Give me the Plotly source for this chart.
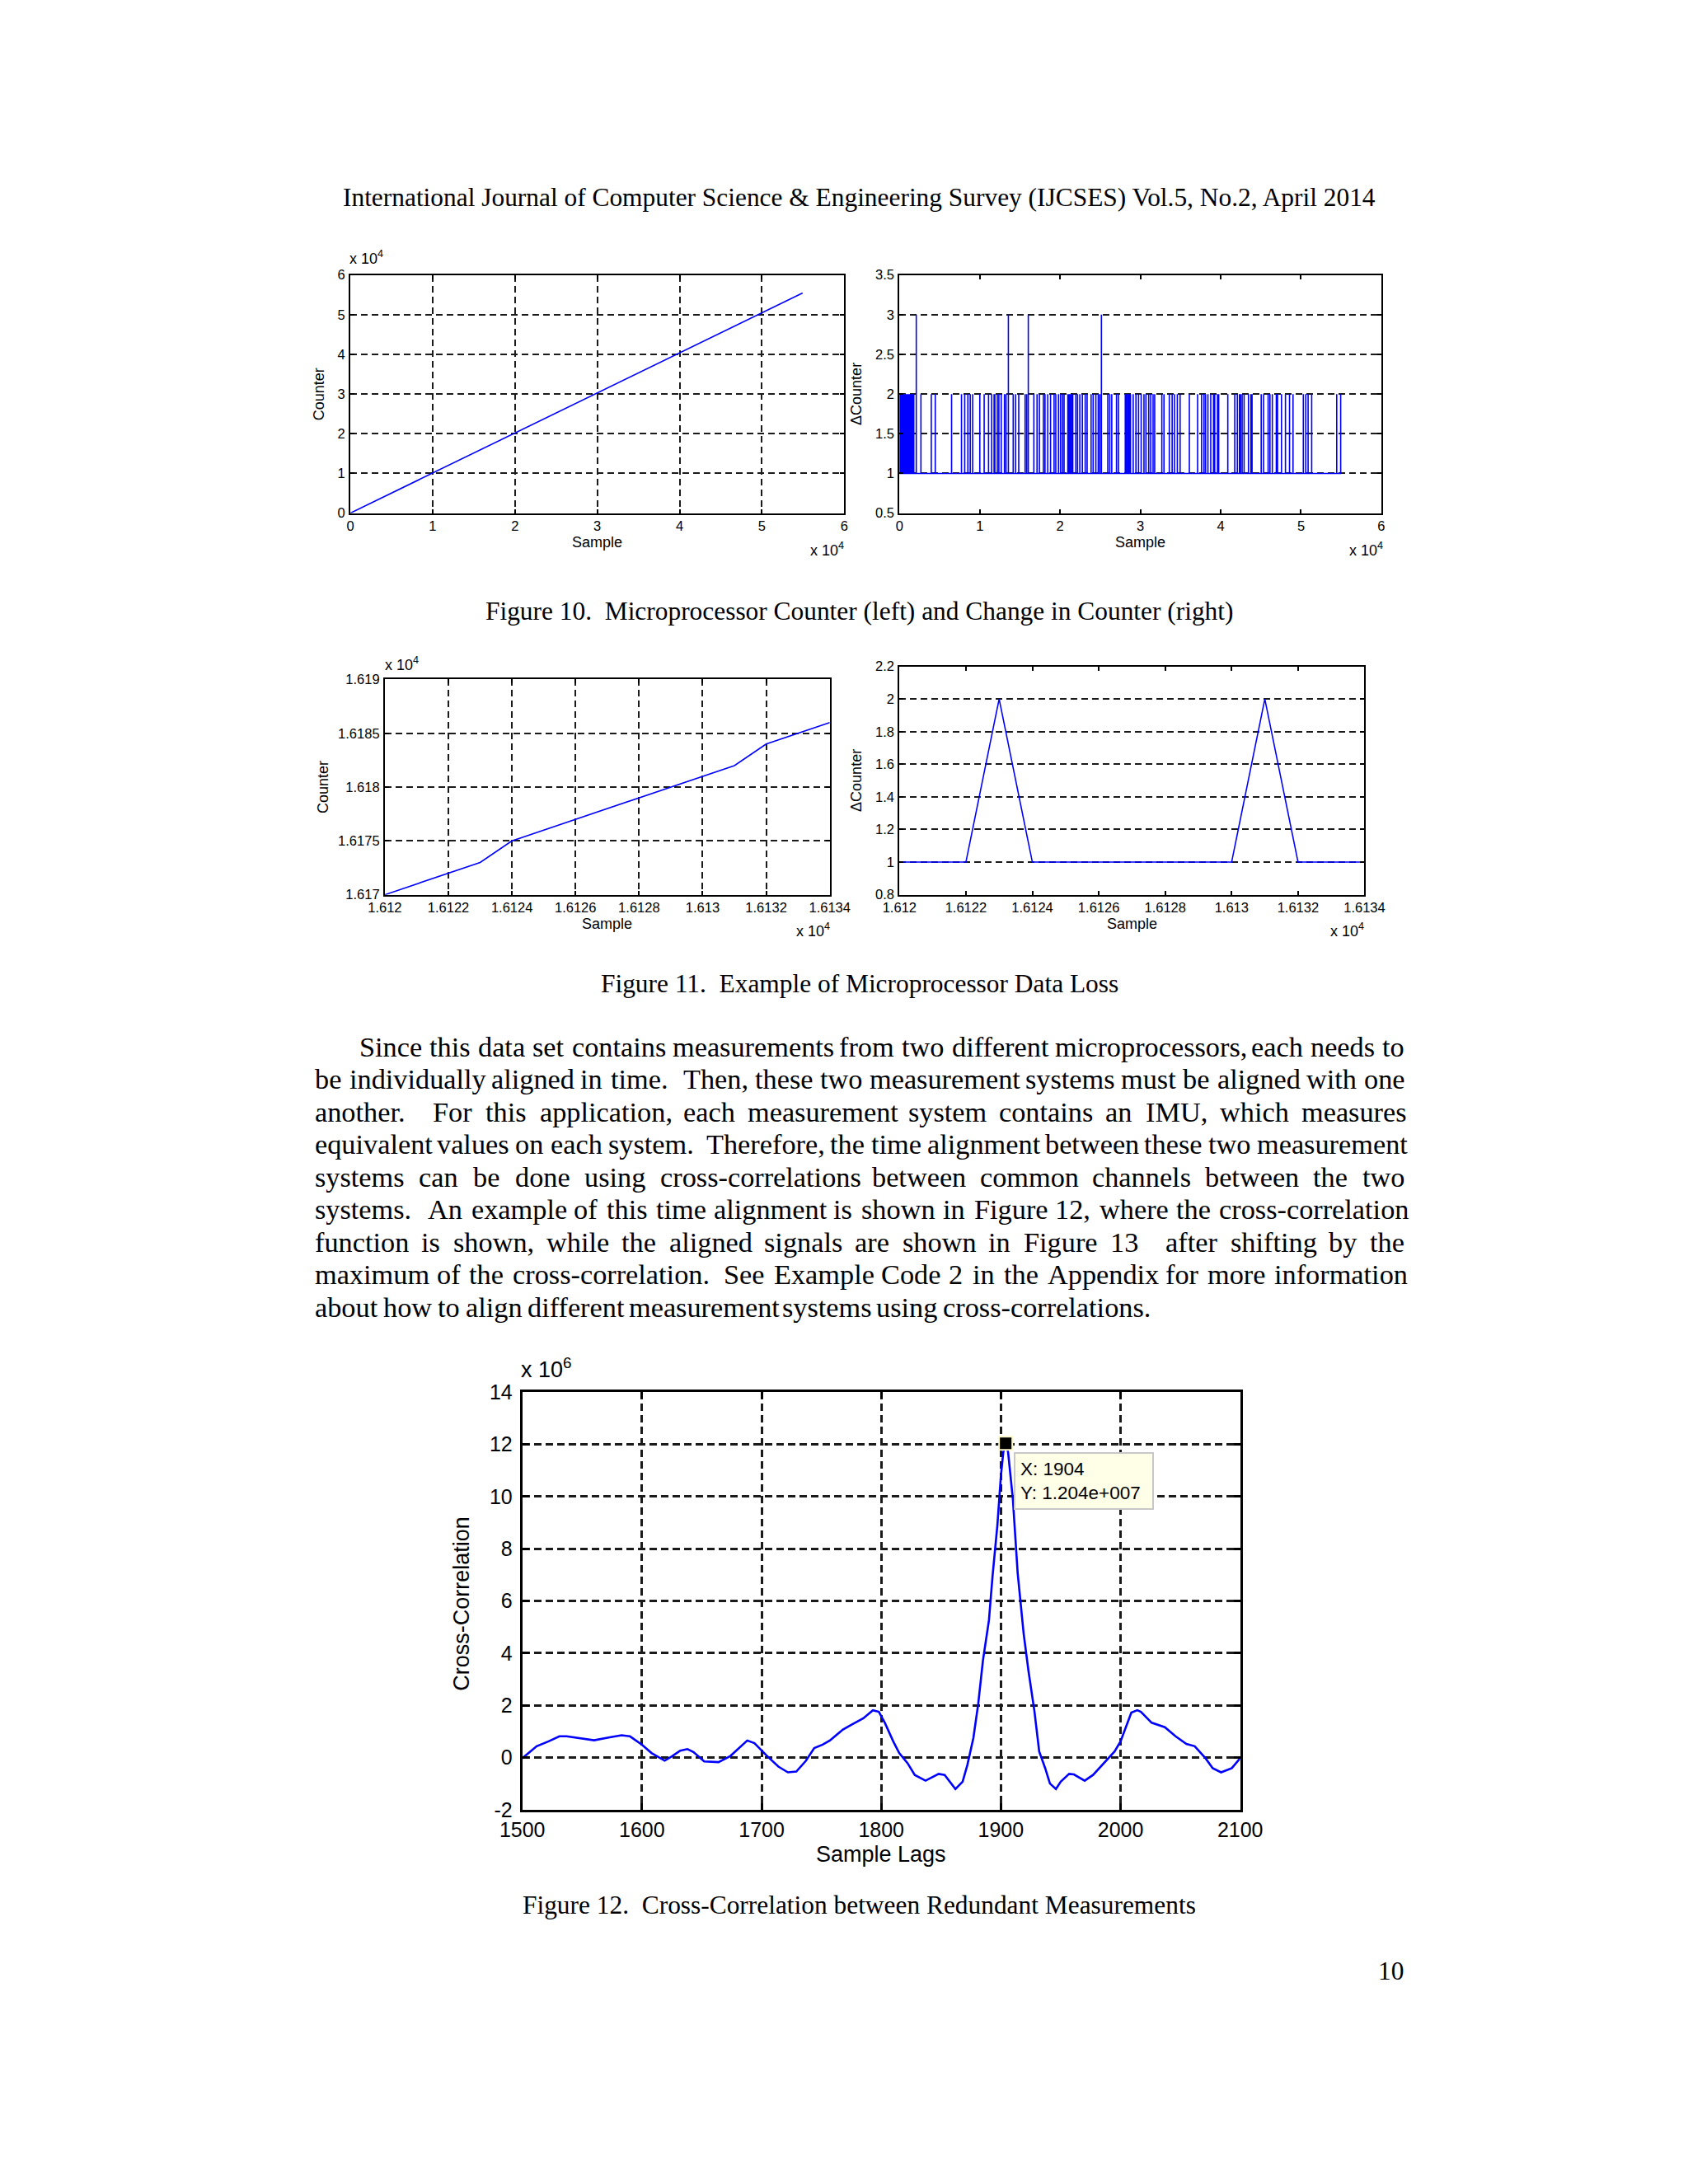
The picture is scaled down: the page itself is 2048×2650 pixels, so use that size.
import plotly.graph_objects as go

W, H = 2048, 2650

# ---------------- data ----------------
# Figure 10 (left): microprocessor counter vs sample
f10_sample = [0, 10000, 20000, 30000, 40000, 50000, 54950]
f10_counter = [0, 10080, 20150, 30230, 40300, 50350, 55450]
f10_ticks = [0, 10000, 20000, 30000, 40000, 50000, 60000]
f10_ticklabels = ['0', '1', '2', '3', '4', '5', '6']

# Figure 10 (right): change in counter (baseline 1, jumps of 2 and 3)
f10_delta_base = 1
f10_jump2_samples = [50, 200, 300, 445, 545, 695, 790, 940, 1090, 1190, 1335, 1485, 1635, 1780,
                     2670, 3960, 4455, 6485, 7720, 8120, 8515, 8810, 9110, 10000, 10545, 11090,
                     11480, 11780, 11880, 12180, 12375, 12670, 13070, 13265, 14160, 14455, 14850,
                     15640, 15840, 16730, 17130, 17425, 17920, 18120, 18465, 18810, 19250, 19465,
                     19800, 20055, 20295, 20495, 20960, 21125, 21285, 21455, 21580, 21960, 22175,
                     22455, 22770, 23125, 23365, 23860, 24115, 24455, 24750, 24950, 25940, 26185,
                     26435, 27025, 27275, 28115, 28275, 28445, 28610, 28770, 29105, 29445, 29770,
                     30095, 30445, 30690, 31035, 31285, 31580, 31780, 32670, 32935, 33600, 33955,
                     34255, 34600, 34945, 36095, 37125, 37620, 37915, 38115, 38410, 38760, 39105,
                     39255, 39600, 39750, 40885, 41750, 42075, 42340, 42470, 42670, 42915, 43460,
                     43760, 43905, 45045, 45340, 45905, 46135, 46430, 46925, 47075, 47570, 48065,
                     48570, 49005, 50290, 50590, 50885, 51330, 54450, 54940]
f10_jump3_samples = [2090, 13560, 16040, 25145]
f10_delta_last_sample = 54950
f10r_yticks = [0.5, 1, 1.5, 2, 2.5, 3, 3.5]
f10r_yticklabels = ['0.5', '1', '1.5', '2', '2.5', '3', '3.5']

# Figure 11: data loss example
f11_sample = [16120, 16121, 16122, 16123, 16124, 16125, 16126, 16127, 16128, 16129,
              16130, 16131, 16132, 16133, 16134]
f11_counter = [16170, 16171, 16172, 16173, 16175, 16176, 16177, 16178, 16179, 16180,
               16181, 16182, 16184, 16185, 16186]
f11_delta = [1, 1, 1, 2, 1, 1, 1, 1, 1, 1, 1, 2, 1, 1, 1]
f11_xticks = [16120, 16122, 16124, 16126, 16128, 16130, 16132, 16134]
f11_xticklabels = ['1.612', '1.6122', '1.6124', '1.6126', '1.6128', '1.613', '1.6132', '1.6134']
f11l_yticks = [16170, 16175, 16180, 16185, 16190]
f11l_yticklabels = ['1.617', '1.6175', '1.618', '1.6185', '1.619']
f11r_yticks = [0.8, 1.0, 1.2, 1.4, 1.6, 1.8, 2.0, 2.2]
f11r_yticklabels = ['0.8', '1', '1.2', '1.4', '1.6', '1.8', '2', '2.2']

# Figure 12: cross-correlation (values in units of 10^6)
f12_lags = [1500, 1512, 1522, 1531, 1537, 1549, 1560, 1573, 1583, 1590, 1600, 1608, 1619, 1625,
            1632, 1638, 1643, 1652, 1664, 1674, 1681, 1688, 1694, 1704, 1714, 1722, 1729, 1737,
            1744, 1751, 1757, 1768, 1774, 1785, 1793, 1798, 1803, 1810, 1815, 1822, 1828, 1837,
            1848, 1853, 1862, 1868, 1872, 1877, 1881, 1885, 1890, 1893, 1897, 1900, 1902, 1904,
            1906, 1910, 1914, 1919, 1923, 1928, 1932, 1937, 1941, 1946, 1950, 1957, 1961, 1970,
            1977, 1986, 1995, 2000, 2004, 2009, 2014, 2017, 2026, 2037, 2046, 2055, 2062, 2071,
            2077, 2084, 2093, 2100]
f12_xcorr = [-0.03, 0.43, 0.62, 0.81, 0.81, 0.72, 0.66, 0.77, 0.85, 0.81, 0.49, 0.17, -0.12, 0.04,
             0.26, 0.32, 0.21, -0.15, -0.18, 0.06, 0.34, 0.65, 0.55, 0.08, -0.35, -0.57, -0.54, -0.13,
             0.36, 0.49, 0.65, 1.07, 1.23, 1.50, 1.81, 1.75, 1.33, 0.62, 0.17, -0.22, -0.67, -0.89,
             -0.63, -0.67, -1.21, -0.93, -0.28, 0.75, 2.04, 3.72, 5.26, 6.94, 8.88, 10.8, 11.7, 12.04,
             11.7, 9.9, 7.07, 4.75, 3.33, 1.78, 0.23, -0.41, -1.0, -1.21, -0.93, -0.63, -0.65, -0.89,
             -0.67, -0.22, 0.23, 0.62, 1.14, 1.72, 1.81, 1.75, 1.33, 1.16, 0.81, 0.52, 0.43, -0.03,
             -0.41, -0.57, -0.41, -0.03]
f12_peak_lag = 1904
f12_peak_val = 12.04
f12_xticks = [1500, 1600, 1700, 1800, 1900, 2000, 2100]
f12_xticklabels = ['1500', '1600', '1700', '1800', '1900', '2000', '2100']
f12_yticks = [-2, 0, 2, 4, 6, 8, 10, 12, 14]
f12_yticklabels = ['-2', '0', '2', '4', '6', '8', '10', '12', '14']

# Page text
header_text = "International Journal of Computer Science & Engineering Survey (IJCSES) Vol.5, No.2, April 2014"
cap10 = "Figure 10.\u00a0 Microprocessor Counter (left) and Change in Counter (right)"
cap11 = "Figure 11.\u00a0 Example of Microprocessor Data Loss"
cap12 = "Figure 12.\u00a0 Cross-Correlation between Redundant Measurements"
page_no = "10"
para_lines = [
    "Since this data set contains measurements from two different microprocessors, each needs to",
    "be individually aligned in time.  Then, these two measurement systems must be aligned with one",
    "another.  For this application, each measurement system contains an IMU, which measures",
    "equivalent values on each system.  Therefore, the time alignment between these two measurement",
    "systems can be done using cross-correlations between common channels between the two",
    "systems.  An example of this time alignment is shown in Figure 12, where the cross-correlation",
    "function is shown, while the aligned signals are shown in Figure 13  after shifting by the",
    "maximum of the cross-correlation.  See Example Code 2 in the Appendix for more information",
    "about how to align different measurement systems using cross-correlations.",
]

# ---------------- helpers ----------------
TIMES = {' ': 250, '.': 250, ',': 250, '-': 333, '(': 333, ')': 333, '&': 778, ':': 278,
         'a': 444, 'b': 500, 'c': 444, 'd': 500, 'e': 444, 'f': 333, 'g': 500, 'h': 500, 'i': 278,
         'j': 278, 'k': 500, 'l': 278, 'm': 778, 'n': 500, 'o': 500, 'p': 500, 'q': 500, 'r': 333,
         's': 389, 't': 278, 'u': 500, 'v': 500, 'w': 722, 'x': 500, 'y': 500, 'z': 444,
         'A': 722, 'B': 667, 'C': 667, 'D': 722, 'E': 611, 'F': 556, 'G': 722, 'H': 722, 'I': 333,
         'J': 389, 'K': 722, 'L': 611, 'M': 889, 'N': 722, 'O': 722, 'P': 556, 'Q': 722, 'R': 667,
         'S': 556, 'T': 611, 'U': 722, 'V': 722, 'W': 944, 'X': 722, 'Y': 722, 'Z': 611}


def tw(s, size):
    return sum(TIMES.get(c, 500) for c in s) / 1000.0 * size


def px_x(x):
    return x / W


def px_y(y):
    return 1 - y / H


def ann(text, x, y, size, family='Liberation Sans', xanchor='center', yanchor='middle', angle=0):
    return dict(text=text, x=px_x(x), y=px_y(y), xref='paper', yref='paper', showarrow=False,
                font=dict(family=family, size=size, color='black'), xanchor=xanchor,
                yanchor=yanchor, textangle=angle, borderpad=0, borderwidth=0)


def axis_style(domain, rng, tickvals, ticktext, grid, size, lw, glw, dash, ticklen, standoff=0):
    return dict(domain=domain, range=rng, tickvals=tickvals, ticktext=ticktext, showgrid=grid,
                gridcolor='#1a1a1a', gridwidth=glw, griddash=dash, zeroline=False,
                showline=True, linecolor='black', linewidth=lw, mirror='ticks',
                ticks='inside', ticklen=ticklen, tickwidth=lw, tickcolor='black',
                tickfont=dict(family='Liberation Sans', size=size, color='black'),
                ticklabelstandoff=standoff, fixedrange=True)


def dx(a, b):
    return [a / W, b / W]


def dy(top, bottom):
    return [1 - bottom / H, 1 - top / H]


# ---------------- build ΔCounter series ----------------
events = sorted([(p, 2) for p in f10_jump2_samples] + [(p, 3) for p in f10_jump3_samples])
d_x = [0]
d_y = [f10_delta_base]
for p, v in events:
    d_x += [p - 1, p, p + 1]
    d_y += [f10_delta_base, v, f10_delta_base]
d_x.append(f10_delta_last_sample)
d_y.append(f10_delta_base)

BLUE = '#0000ff'
fig = go.Figure()
fig.add_trace(go.Scatter(x=f10_sample, y=f10_counter, mode='lines',
                         line=dict(color=BLUE, width=1.6), xaxis='x', yaxis='y'))
fig.add_trace(go.Scatter(x=d_x, y=d_y, mode='lines',
                         line=dict(color=BLUE, width=1.6, simplify=False), xaxis='x2', yaxis='y2'))
fig.add_trace(go.Scatter(x=f11_sample, y=f11_counter, mode='lines',
                         line=dict(color=BLUE, width=1.6), xaxis='x3', yaxis='y3'))
fig.add_trace(go.Scatter(x=f11_sample, y=f11_delta, mode='lines',
                         line=dict(color=BLUE, width=1.6), xaxis='x4', yaxis='y4'))
fig.add_trace(go.Scatter(x=f12_lags, y=f12_xcorr, mode='lines',
                         line=dict(color=BLUE, width=2.6), xaxis='x5', yaxis='y5'))
fig.add_trace(go.Scatter(x=[f12_peak_lag], y=[f12_peak_val], mode='markers',
                         marker=dict(symbol='square', size=16, color='black',
                                     line=dict(color='#fbf7c8', width=2)),
                         xaxis='x5', yaxis='y5'))

D1 = '8px,5px'
D2 = '9px,5px'
fig.update_layout(
    width=W, height=H, margin=dict(l=0, r=0, t=0, b=0),
    paper_bgcolor='white', plot_bgcolor='white', showlegend=False,
    xaxis=axis_style(dx(400, 1016), [0, 60000], f10_ticks, f10_ticklabels, True, 16.5, 2, 2, D1, 5, 0),
    yaxis=axis_style(dy(315, 607), [0, 60000], f10_ticks, f10_ticklabels, True, 16.5, 2, 2, D1, 5, 1),
    xaxis2=axis_style(dx(1085, 1686), [0, 60000], f10_ticks, f10_ticklabels, False, 16.5, 2, 2, D1, 5, 0),
    yaxis2=axis_style(dy(315, 607), [0.5, 3.5], f10r_yticks, f10r_yticklabels, True, 16.5, 2, 2, D1, 5, 1),
    xaxis3=axis_style(dx(443, 998), [16120, 16134], f11_xticks, f11_xticklabels, True, 16.5, 2, 2, D1, 5, 0),
    yaxis3=axis_style(dy(811, 1075), [16170, 16190], f11l_yticks, f11l_yticklabels, True, 16.5, 2, 2, D1, 5, 1),
    xaxis4=axis_style(dx(1085, 1665), [16120, 16134], f11_xticks, f11_xticklabels, False, 16.5, 2, 2, D1, 5, 0),
    yaxis4=axis_style(dy(795, 1075), [0.8, 2.2], f11r_yticks, f11r_yticklabels, True, 16.5, 2, 2, D1, 5, 1),
    xaxis5=axis_style(dx(614.5, 1510), [1500, 2100], f12_xticks, f12_xticklabels, True, 25, 3, 2.5, D2, 8, 0),
    yaxis5=axis_style(dy(1685, 2197), [-2, 14], f12_yticks, f12_yticklabels, True, 25, 3, 2.5, D2, 8, 4),
)
for i in range(1, 6):
    s = '' if i == 1 else str(i)
    fig.layout['xaxis' + s].anchor = 'y' + s
    fig.layout['yaxis' + s].anchor = 'x' + s

anns = []
SERIF = 'Liberation Serif'
FS = 31.4      # header / captions
FSB = 34.3     # body paragraph
CX = 1035
anns.append(ann(header_text, CX, 220, FS, SERIF))
anns.append(ann(cap10, CX, 727, FS, SERIF))
anns.append(ann(cap11, CX, 1184, FS, SERIF))
anns.append(ann(cap12, CX, 2314, FS, SERIF))
anns.append(ann(page_no, 1714, 2395, FS, SERIF, xanchor='right'))

# justified paragraph
LEFT, RIGHT, INDENT = 356, 1714, 411
Y0, DY = 1261, 39.96
sp = tw(' ', FSB)
for i, line in enumerate(para_lines):
    x0 = INDENT if i == 0 else LEFT
    toks = line.split(' ')
    gaps = len(toks) - 1
    natural = sum(tw(t, FSB) for t in toks) + gaps * sp
    extra = 0 if i == len(para_lines) - 1 else max(0.0, (RIGHT - x0 - natural) / gaps)
    x = x0
    y = Y0 + i * DY
    for t in toks:
        if t:
            anns.append(ann(t, x, y, FSB, SERIF, xanchor='left'))
        x += tw(t, FSB) + sp + extra

# Figure 10 labels
anns.append(ann('x 10<sup>4</sup>', 399, 294, 18, xanchor='left'))
anns.append(ann('Counter', 361, 461, 18, angle=-90))
anns.append(ann('Sample', 708, 643, 18))
anns.append(ann('x 10<sup>4</sup>', 1016, 651, 18, xanchor='right'))
anns.append(ann('\u0394Counter', 1031, 461, 18, angle=-90))
anns.append(ann('Sample', 1385, 643, 18))
anns.append(ann('x 10<sup>4</sup>', 1688, 651, 18, xanchor='right'))

# Figure 11 labels
anns.append(ann('x 10<sup>4</sup>', 443, 792, 18, xanchor='left'))
anns.append(ann('Counter', 366, 943, 18, angle=-90))
anns.append(ann('Sample', 720, 1111, 18))
anns.append(ann('x 10<sup>4</sup>', 998, 1118, 18, xanchor='right'))
anns.append(ann('\u0394Counter', 1031, 935, 18, angle=-90))
anns.append(ann('Sample', 1375, 1111, 18))
anns.append(ann('x 10<sup>4</sup>', 1665, 1118, 18, xanchor='right'))

# Figure 12 labels
anns.append(ann('x 10<sup>6</sup>', 613, 1655, 27, xanchor='left'))
anns.append(ann('Cross-Correlation', 539, 1944, 27, angle=-90))
anns.append(ann('Sample Lags', 1062, 2252, 27))

# data tip
mant = f"{f12_peak_val * 1e6:.3e}"
m, e = mant.split('e')
tip_y = f"{m}e{e[0]}{int(e[1:]):03d}"
tip = dict(text=f"X: {f12_peak_lag}<br>Y: {tip_y}", x=px_x(1228), y=px_y(1759), xref='paper',
           yref='paper', showarrow=False, xanchor='left', yanchor='top', align='left',
           font=dict(family='Liberation Sans', size=22.5, color='black'),
           bgcolor='#ffffe8', bordercolor='#c8c8c8', borderwidth=2, borderpad=6, width=154)
anns.append(tip)

fig.update_layout(annotations=anns)
fig.write_html("out.html")
